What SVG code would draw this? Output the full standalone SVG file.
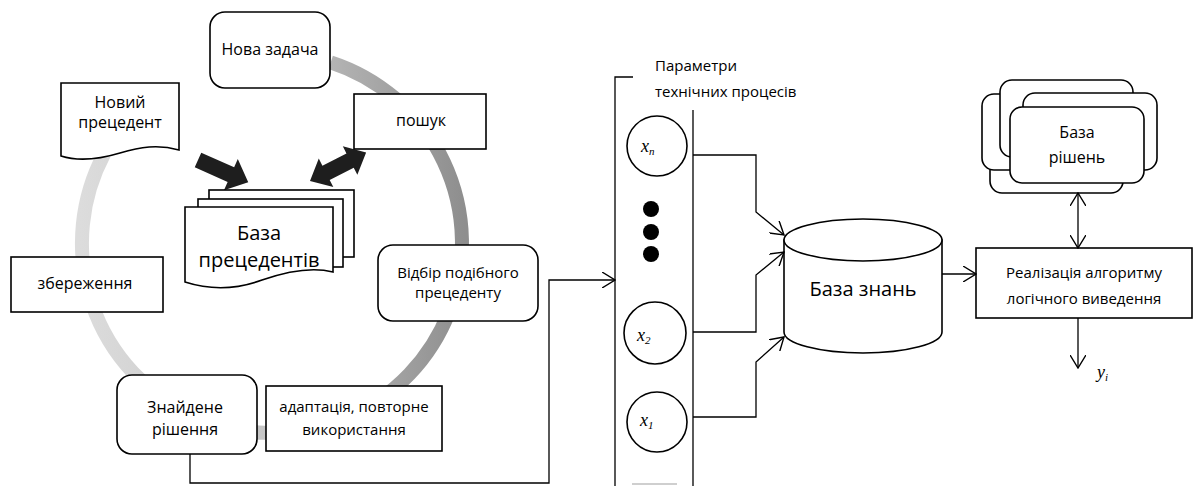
<svg xmlns="http://www.w3.org/2000/svg" width="1195" height="486" viewBox="0 0 1195 486">
<style>
text{font-family:"Open Sans","Liberation Sans",sans-serif;fill:#000;text-anchor:middle}
.t15{font-size:15px}
.t16{font-size:16px}
.t20{font-size:20px}
.b{fill:#fff;stroke:#000;stroke-width:1.6}
.c{fill:none;stroke:#000;stroke-width:1.3}
.m{font-family:"Liberation Serif",serif;font-style:italic;font-size:18px;text-anchor:start}
.s{font-size:11px}
.blk{fill:#1e1e1e}
</style>
<defs>
<linearGradient id="ringG" gradientUnits="userSpaceOnUse" x1="80" y1="0" x2="465" y2="0">
<stop offset="0" stop-color="#dcdcdc"/>
<stop offset="0.5" stop-color="#c4c4c4"/>
<stop offset="1" stop-color="#8e8e8e"/>
</linearGradient>
<marker id="ah" viewBox="0 0 14 16" refX="13" refY="8" markerWidth="14" markerHeight="16" markerUnits="userSpaceOnUse" orient="auto-start-reverse">
<path d="M0,0 L13,8 L0,16" fill="none" stroke="#000" stroke-width="1.4"/>
</marker>
</defs>

<g id="ring">
<path d="M330.7,62.3 A190,190 0 1 1 104.2,153.8" fill="none" stroke="url(#ringG)" stroke-width="14"/>
</g>

<g id="arrows-big">
<polygon class="blk" points="0,-8 36,-8 36,-17 55,0 36,17 36,8 0,8" transform="translate(198,160) rotate(24)"/>
<polygon class="blk" points="0,0 18,-16 18,-8 45,-8 45,-16 63,0 45,16 45,8 18,8 18,16" transform="translate(310,181) rotate(-27)"/>
</g>

<g id="node-nova">
<rect class="b" x="210" y="12" width="120" height="76" rx="15"/>
<text class="t16" x="270" y="55">Нова задача</text>
</g>

<g id="node-noviy">
<path class="b" d="M61,83 H179 V150 C158,144 140,147 120,153 C100,159 80,162 61,156 Z"/>
<text class="t16" x="120" y="108">Новий</text>
<text class="t16" x="120" y="128">прецедент</text>
</g>

<g id="node-poshuk">
<rect class="b" x="354" y="94" width="132" height="55"/>
<text class="t16" x="421" y="126">пошук</text>
</g>

<g id="node-baza-prec">
<rect class="b" x="209" y="190" width="145" height="67"/>
<rect class="b" x="198" y="199" width="145" height="68"/>
<path class="b" d="M185,207 H333 V272 C310,266 285,272 262,280 C235,290 210,290 185,282 Z"/>
<text class="t20" x="259" y="240">База</text>
<text class="t20" x="259" y="267">прецедентів</text>
</g>

<g id="node-zberezhennya">
<rect class="b" x="11" y="257" width="152" height="55"/>
<text class="t16" x="85" y="289">збереження</text>
</g>

<g id="node-vidbir">
<rect class="b" x="378" y="245" width="160" height="76" rx="15"/>
<text class="t15" x="458" y="278">Відбір подібного</text>
<text class="t15" x="458" y="298">прецеденту</text>
</g>

<g id="node-znaidene">
<rect class="b" x="117" y="375" width="140" height="79" rx="15"/>
<text class="t16" x="185" y="413">Знайдене</text>
<text class="t16" x="185" y="435">рішення</text>
</g>

<g id="node-adaptatsiya">
<rect class="b" x="266" y="386" width="176" height="65"/>
<text class="t15" x="354" y="412">адаптація, повторне</text>
<text class="t15" x="354" y="435">використання</text>
</g>

<g id="node-params">
<path class="c" d="M633,77 H615 V486" stroke-width="1.5"/>
<line class="c" x1="693" y1="110" x2="693" y2="486" stroke-width="1.5"/>
<line x1="632" y1="484" x2="677" y2="484" stroke="#cfcfcf" stroke-width="2"/>
<text class="t15" x="655" y="71" style="text-anchor:start">Параметри</text>
<text class="t15" x="655" y="97" style="text-anchor:start">технічних процесів</text>
<circle class="b" cx="657" cy="146" r="30"/>
<text class="m" x="641" y="152">x<tspan class="s" dy="3">n</tspan></text>
<circle cx="651" cy="209" r="8"/>
<circle cx="651" cy="232" r="8"/>
<circle cx="651" cy="254" r="8"/>
<circle class="b" cx="655" cy="333" r="31"/>
<text class="m" x="637" y="341">x<tspan class="s" dy="3">2</tspan></text>
<circle class="b" cx="657" cy="422" r="30"/>
<text class="m" x="640" y="426">x<tspan class="s" dy="3">1</tspan></text>
</g>

<g id="node-baza-znan">
<path class="b" d="M784,240 V332 A79,21 0 0 0 942,332 V240 Z"/>
<ellipse class="b" cx="863" cy="240" rx="79" ry="21"/>
<text x="863" y="296" style="font-size:20px">База знань</text>
</g>

<g id="node-baza-rishen">
<rect class="b" x="990" y="116" width="133" height="77" rx="12"/>
<rect class="b" x="982" y="94" width="133" height="76" rx="12"/>
<rect class="b" x="1000" y="80" width="133" height="77" rx="12"/>
<rect class="b" x="1023" y="93" width="134" height="77" rx="12"/>
<rect class="b" x="1010" y="107" width="134" height="76" rx="12"/>
<text class="t16" x="1077" y="138">База</text>
<text class="t16" x="1077" y="163">рішень</text>
</g>

<g id="node-realizatsiya">
<rect class="b" x="976" y="248" width="216" height="70"/>
<text class="t15" x="1084" y="278">Реалізація алгоритму</text>
<text class="t15" x="1084" y="304">логічного виведення</text>
</g>

<g id="output-label">
<text class="m" x="1097" y="378">y<tspan class="s" dy="3">i</tspan></text>
</g>

<g id="connectors">
<path class="c" d="M190,454 V483 H549 V280 H615" marker-end="url(#ah)"/>
<path class="c" d="M693,155 H756 V212 L784,235" marker-end="url(#ah)"/>
<path class="c" d="M693,332 H756 V275 L784,252" marker-end="url(#ah)"/>
<path class="c" d="M693,417 H756 V362 L784,337" marker-end="url(#ah)"/>
<path class="c" d="M942,274 H976" marker-end="url(#ah)"/>
<path class="c" d="M1078,193 V248" marker-start="url(#ah)" marker-end="url(#ah)"/>
<path class="c" d="M1078,318 V368" marker-end="url(#ah)"/>
</g>
</svg>
